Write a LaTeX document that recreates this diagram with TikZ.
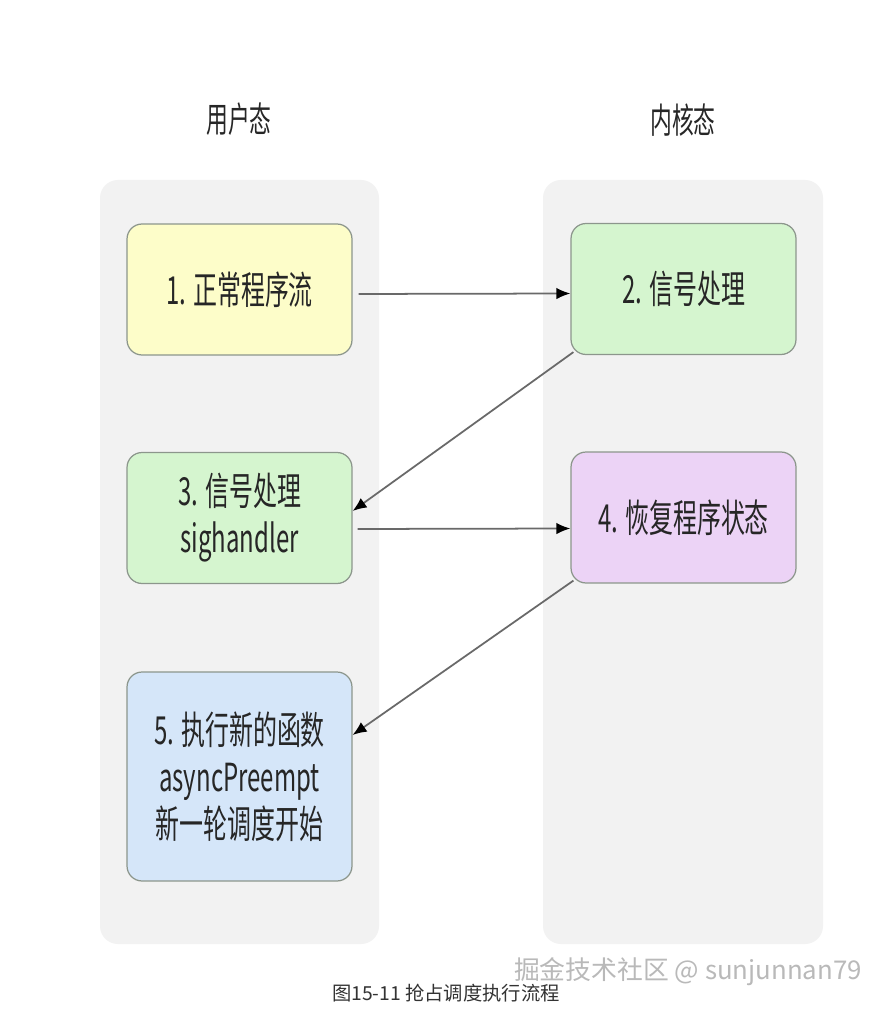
\documentclass[tikz,border=0pt]{standalone}
\usepackage{fontspec}
\newfontfamily\cjk[FakeStretch=0.62]{Noto Sans CJK SC}
\newfontfamily\cjkplain{Noto Sans CJK SC}
\usetikzlibrary{arrows.meta}
\definecolor{lanegray}{RGB}{242,242,242}
\definecolor{boxline}{RGB}{140,150,140}
\definecolor{fillyellow}{RGB}{253,253,201}
\definecolor{fillgreen}{RGB}{213,245,207}
\definecolor{fillpurple}{RGB}{236,211,246}
\definecolor{fillblue}{RGB}{213,230,249}
\definecolor{linegray}{RGB}{105,105,105}
\begin{document}
\begin{tikzpicture}[x=0.02cm, y=-0.02cm, font=\cjk, >={Latex[length=2.8mm,width=2.3mm,color=black]},
      lane/.style={fill=lanegray, rounded corners=0.36cm},
      title/.style={font=\fontsize{20}{24}\cjk, text=black!85},
      box/.style={draw=boxline, line width=0.7pt, rounded corners=0.3cm, align=center,
        minimum width=4.5cm, minimum height=2.62cm, text=black!85,
        font=\fontsize{22}{26.7}\cjk},
      flow/.style={box, fill=fillyellow},
      sig/.style={box, fill=fillgreen},
      rest/.style={box, fill=fillpurple},
      sched/.style={box, fill=fillblue},
      link/.style={->, draw=linegray, line width=1pt}]
    \useasboundingbox (0,0) rectangle (890,1016);
    \fill[white] (0,0) rectangle (890,1016);
    % swim lanes
    \fill[lane] (100,180) rectangle (379,944);
    \fill[lane] (543,180) rectangle (823,944);
    \node[title] (user) at (239,119) {用户态};
    \node[title] (kern) at (683,120) {内核态};
    % steps
    \node[flow] (b1) at (239.5,289.5) {1. 正常程序流};
    \node[sig] (b2) at (683.5,289) {2. 信号处理};
    \node[sig] (b3) at (239.5,518) {3. 信号处理\\sighandler};
    \node[rest] (b4) at (683.5,517.5) {4. 恢复程序状态};
    \node[sched, minimum height=4.18cm] (b5) at (239.5,776.5) {5. 执行新的函数\\asyncPreempt\\新一轮调度开始};
    \draw[link, shorten <=0.12cm] ([yshift=-0.09cm]b1.east) -- ([yshift=-0.09cm]b2.west);
    \draw[link] ([shift={(3,-3)}]b2.south west) -- ([yshift=0.14cm]b3.east);
    \draw[link, shorten <=0.1cm] ([yshift=-0.22cm]b3.east) -- ([yshift=-0.22cm]b4.west);
    \draw[link] ([shift={(3,-3)}]b4.south west) -- ([yshift=0.83cm]b5.east);
    % caption and watermark
    \node[font=\fontsize{14.7}{17}\cjkplain, text=gray!55] (mark) at (688,972) {掘金技术社区 @ sunjunnan79};
    \node[font=\fontsize{11}{13}\cjkplain, text=black!80] (cap) at (446,993) {图15-11 抢占调度执行流程};
  \end{tikzpicture}
\end{document}
